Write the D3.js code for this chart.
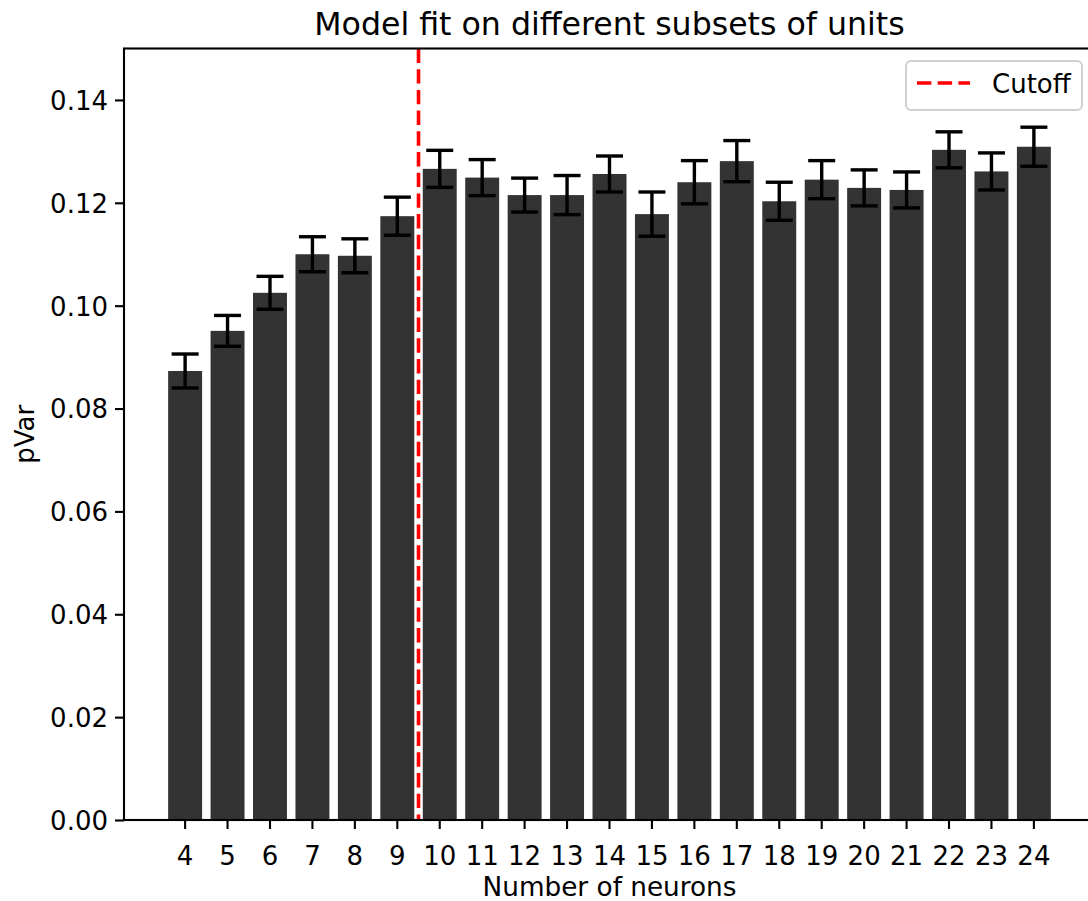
<!DOCTYPE html>
<html>
<head>
  <meta charset="utf-8">
  <script src="https://d3js.org/d3.v7.min.js"></script>
  <style>
    body { margin: 0; background: #fff; }
    text { font-family: "DejaVu Sans", sans-serif; fill: #000; }
  </style>
</head>
<body>
  <div id="chart"></div>
  <script>
    // neuron counts, mean pVar and error bar half-widths
    var neurons = ["4", "5", "6", "7", "8", "9", "10", "11", "12", "13", "14",
      "15", "16", "17", "18", "19", "20", "21", "22", "23", "24"];
    var pvar = [0.0873, 0.0951, 0.1025, 0.1100, 0.1097, 0.1174, 0.1266, 0.1249,
      0.1215, 0.1215, 0.1256, 0.1178, 0.1240, 0.1281, 0.1203, 0.1245, 0.1229,
      0.1225, 0.1303, 0.1261, 0.1309];
    var errs = [0.0033, 0.0030, 0.0032, 0.0034, 0.0033, 0.0037, 0.0036, 0.0035,
      0.0033, 0.0038, 0.0035, 0.0043, 0.0042, 0.0040, 0.0037, 0.0037, 0.0035,
      0.0035, 0.0035, 0.0036, 0.0038];
    var yTicks = [0, 0.02, 0.04, 0.06, 0.08, 0.10, 0.12, 0.14];
    var cutoffAfter = "9";

    var W = 1088, H = 901;
    var margin = { left: 124, right: 1095, top: 48.5, bottom: 820 };

    var svg = d3.select("#chart").append("svg")
      .attr("width", W).attr("height", H);

    var x = d3.scaleBand().domain(neurons).range([margin.left, margin.right])
      .paddingInner(0.2).paddingOuter(1.04);
    var y = d3.scaleLinear().domain([0, 0.15]).range([margin.bottom, margin.top]);

    var data = neurons.map(function(d, i) {
      return { n: d, v: pvar[i], e: errs[i] };
    });

    // bars
    svg.selectAll("rect.bar").data(data).enter().append("rect")
      .attr("class", "bar")
      .attr("x", function(d) { return x(d.n); })
      .attr("width", x.bandwidth())
      .attr("y", function(d) { return y(d.v); })
      .attr("height", function(d) { return y(0) - y(d.v); })
      .attr("fill", "#333333");

    // error bars
    var eb = svg.selectAll("g.err").data(data).enter().append("g")
      .attr("class", "err")
      .attr("stroke", "#000").attr("stroke-width", 3.4);
    var cx = function(d) { return x(d.n) + x.bandwidth() / 2; };
    eb.append("line")
      .attr("x1", cx).attr("x2", cx)
      .attr("y1", function(d) { return y(d.v - d.e); })
      .attr("y2", function(d) { return y(d.v + d.e); });
    [-1, 1].forEach(function(s) {
      eb.append("line")
        .attr("x1", function(d) { return cx(d) - 13.5; })
        .attr("x2", function(d) { return cx(d) + 13.5; })
        .attr("y1", function(d) { return y(d.v + s * d.e); })
        .attr("y2", function(d) { return y(d.v + s * d.e); });
    });

    // cutoff line between 9 and 10
    var ci = neurons.indexOf(cutoffAfter);
    var cutX = (x(neurons[ci]) + x(neurons[ci + 1])) / 2 + x.bandwidth() / 2;
    svg.append("line")
      .attr("x1", cutX).attr("x2", cutX)
      .attr("y1", margin.top).attr("y2", margin.bottom)
      .attr("stroke", "red").attr("stroke-width", 3.6)
      .attr("stroke-dasharray", "14.4,6.3");

    // axes
    var yAxis = svg.append("g")
      .attr("transform", "translate(" + margin.left + ",0)")
      .call(d3.axisLeft(y).tickValues(yTicks).tickFormat(d3.format(".2f"))
        .tickSize(9).tickPadding(7));
    var xAxis = svg.append("g")
      .attr("transform", "translate(0," + margin.bottom + ")")
      .call(d3.axisBottom(x).tickSize(9).tickPadding(7).tickSizeOuter(0));
    [xAxis, yAxis].forEach(function(a) {
      a.select(".domain").remove();
      a.selectAll("line").attr("stroke", "#000").attr("stroke-width", 2.1);
      a.selectAll("text").style("font-size", "26px")
        .style("font-family", "DejaVu Sans");
    });
    xAxis.selectAll("text").attr("y", 45).attr("dy", 0);
    yAxis.selectAll("text").attr("dy", "0.36em");

    // spines
    svg.append("rect")
      .attr("x", margin.left).attr("y", margin.top)
      .attr("width", margin.right - margin.left)
      .attr("height", margin.bottom - margin.top)
      .attr("fill", "none").attr("stroke", "#000").attr("stroke-width", 2.1);

    // titles
    var midX = (margin.left + margin.right) / 2;
    svg.append("text")
      .attr("x", midX).attr("y", 35)
      .attr("text-anchor", "middle").style("font-size", "31.6px")
      .text("Model fit on different subsets of units");
    svg.append("text")
      .attr("x", midX).attr("y", 896)
      .attr("text-anchor", "middle").style("font-size", "26.3px")
      .text("Number of neurons");
    svg.append("text")
      .attr("transform", "translate(34," + (margin.top + margin.bottom) / 2 + ") rotate(-90)")
      .attr("text-anchor", "middle").style("font-size", "26px")
      .text("pVar");

    // legend
    var lg = svg.append("g");
    lg.append("rect")
      .attr("x", 906).attr("y", 61).attr("width", 176).attr("height", 49)
      .attr("rx", 5).attr("fill", "#fff").attr("fill-opacity", 0.8)
      .attr("stroke", "#d0d0d0").attr("stroke-width", 2);
    lg.append("line")
      .attr("x1", 917).attr("x2", 970).attr("y1", 83).attr("y2", 83)
      .attr("stroke", "red").attr("stroke-width", 3.6)
      .attr("stroke-dasharray", "14.4,6.3");
    lg.append("text")
      .attr("x", 992).attr("y", 93).style("font-size", "26px")
      .text("Cutoff");
  </script>
</body>
</html>
